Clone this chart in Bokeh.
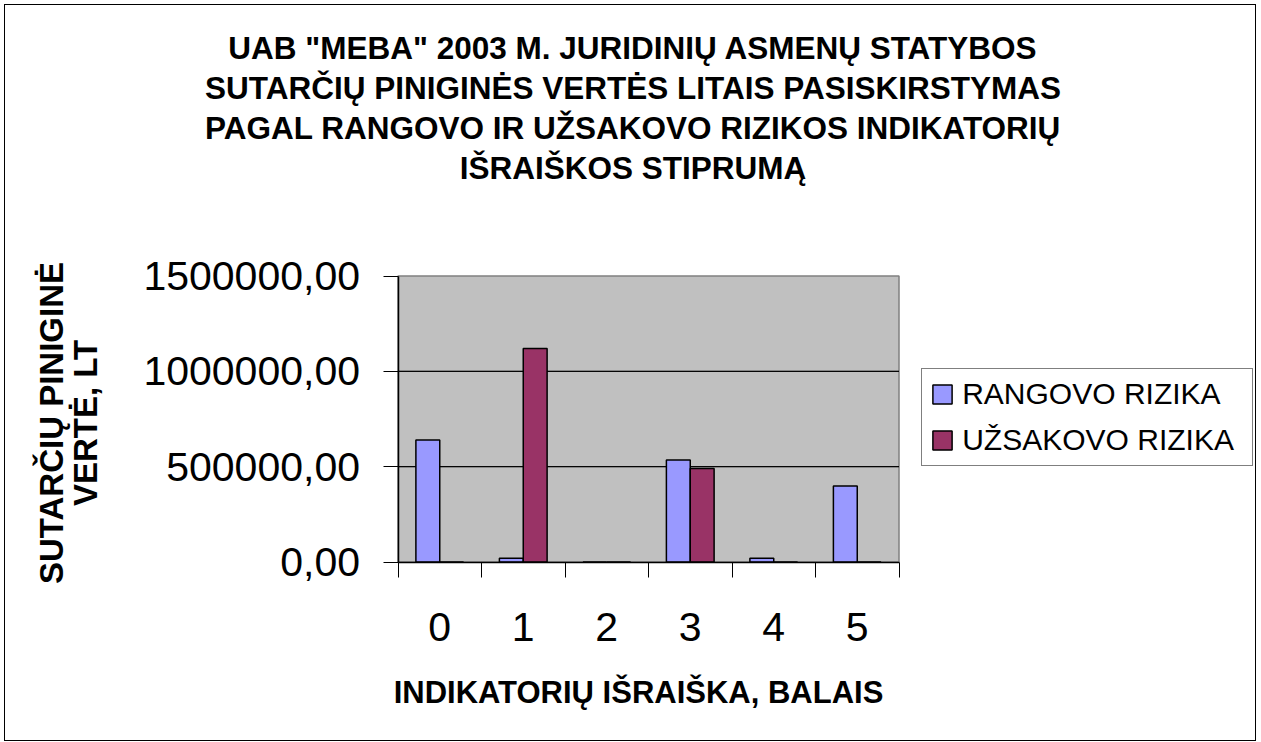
import math
from bokeh.plotting import figure
from bokeh.models import (ColumnDataSource, Range1d, FixedTicker, Legend, LegendItem, Label,
                          BoxAnnotation)
from bokeh.transform import dodge
from bokeh.embed import file_html
from bokeh.resources import INLINE

# ---- data ----
categories = ["0", "1", "2", "3", "4", "5"]
rangovo = [640000, 20000, 0, 535000, 20000, 398000]
uzsakovo = [0, 1120000, 0, 490000, 0, 0]
series_names = ["RANGOVO RIZIKA", "UŽSAKOVO RIZIKA"]
y_ticks = [0, 500000, 1000000, 1500000]
y_tick_labels = ["0,00", "500000,00", "1000000,00", "1500000,00"]
title_lines = [
    'UAB "MEBA" 2003 M. JURIDINIŲ ASMENŲ STATYBOS',
    'SUTARČIŲ PINIGINĖS VERTĖS LITAIS PASISKIRSTYMAS',
    'PAGAL RANGOVO IR UŽSAKOVO RIZIKOS INDIKATORIŲ',
    'IŠRAIŠKOS STIPRUMĄ',
]
x_title = "INDIKATORIŲ IŠRAIŠKA, BALAIS"
y_title_lines = ["SUTARČIŲ PINIGINĖ", "VERTĖ, LT"]

# ---- layout (pixels on the canvas) ----
W, H = 1252, 737
PA_L, PA_R, PA_T, PA_B = 392.5, 893.5, 270.5, 556.5   # grey plot area
FIX = 11                                               # text baseline correction
FONT = "Liberation Sans"

n = len(categories)
x0, x1 = -0.5, n - 0.5
y0, y1 = y_ticks[0], y_ticks[-1]
ux = (PA_R - PA_L) / (x1 - x0)
uy = (PA_B - PA_T) / (y1 - y0)

idx = list(range(n))
src = ColumnDataSource(dict(x=idx, a=rangovo, b=uzsakovo))

p = figure(width=W, height=H, output_backend="svg", toolbar_location=None,
           x_range=Range1d(x0 - PA_L / ux, x1 + (W - PA_R) / ux),
           y_range=Range1d(y0 - (H - PA_B) / uy, y1 + PA_T / uy),
           min_border=0)
p.styles = {"border": "1.5px solid #000", "margin": "4px 0 0 4px"}
p.background_fill_color = "white"
p.border_fill_color = "white"
p.outline_line_color = None
p.xgrid.visible = False
p.ygrid.visible = False

# grey plot area and its grid lines
p.add_layout(BoxAnnotation(left=x0, right=x1, bottom=y0, top=y1, level="image",
                           fill_color="#C0C0C0", fill_alpha=1.0,
                           line_color="#808080", line_width=1.5, line_alpha=1.0))
for t in y_ticks[1:-1]:
    p.add_layout(BoxAnnotation(left=x0, right=x1, bottom=t, top=t, level="underlay",
                               fill_alpha=0, line_color="black", line_width=1, line_alpha=1.0))

bw = 0.2857
r1 = p.vbar(x=dodge("x", -bw / 2, range=p.x_range), top="a", width=bw, source=src,
            fill_color="#9999FF", line_color="black", line_width=1.5)
r2 = p.vbar(x=dodge("x", bw / 2, range=p.x_range), top="b", width=bw, source=src,
            fill_color="#993366", line_color="black", line_width=1.5)

# x axis
xa = p.xaxis[0]
xa.fixed_location = y0
xa.bounds = (x0, x1)
xa.ticker = FixedTicker(ticks=idx, minor_ticks=[i - 0.5 for i in idx] + [idx[-1] + 0.5])
xa.major_label_overrides = {i: c for i, c in zip(idx, categories)}
xa.major_tick_out = 0
xa.major_tick_in = 0
xa.minor_tick_out = 15
xa.minor_tick_in = 0
xa.minor_tick_line_color = "black"
xa.axis_line_color = "black"
xa.axis_line_width = 1.5
xa.major_label_text_font = FONT
xa.major_label_text_font_size = "41px"
xa.major_label_text_color = "black"
xa.major_label_standoff = 36

# y axis
ya = p.yaxis[0]
ya.fixed_location = x0
ya.bounds = (y0, y1)
ya.ticker = FixedTicker(ticks=y_ticks)
ya.major_label_overrides = {t: l for t, l in zip(y_ticks, y_tick_labels)}
ya.major_tick_out = 15
ya.major_tick_in = 0
ya.minor_tick_out = 0
ya.minor_tick_in = 0
ya.major_tick_line_color = "black"
ya.axis_line_color = "black"
ya.axis_line_width = 1.5
ya.major_label_text_font = FONT
ya.major_label_text_font_size = "41px"
ya.major_label_text_color = "black"
ya.major_label_standoff = 23


def bold(size):
    return dict(text_font=FONT, text_font_size=size, text_font_style="bold",
                text_color="black", text_align="center", text_baseline="alphabetic",
                x_units="screen", y_units="screen")


# y axis title: two rotated lines
for txt, bx in zip(y_title_lines, [62.5, 96.0]):
    p.add_layout(Label(x=bx - 5.5 - FIX, y=H + 5.5 - 423, angle=math.pi / 2, text=txt,
                       **bold("33px")))

# x axis title
p.add_layout(Label(x=638.5 - 5.5, y=H + 5.5 - 703.5 + FIX, text=x_title, **bold("31px")))

# chart title: four centred lines
for txt, by in zip(title_lines, [59, 99, 139, 179]):
    p.add_layout(Label(x=633 - 5.5, y=H + 5.5 - by + FIX, text=txt, **bold("31.5px")))

# legend
legend = Legend(items=[LegendItem(label=series_names[0], renderers=[r1]),
                       LegendItem(label=series_names[1], renderers=[r2])],
                location=(921.7 - 5.5, H + 5.5 - 466.7), padding=8, spacing=12,
                glyph_width=24, glyph_height=24, label_standoff=8, label_width=282,
                label_text_font=FONT, label_text_font_size="30px", label_text_color="black",
                border_line_color="black", border_line_width=1.5,
                background_fill_color="white", background_fill_alpha=1.0)
p.add_layout(legend, "center")

open("out.html", "w").write(file_html(p, INLINE))
